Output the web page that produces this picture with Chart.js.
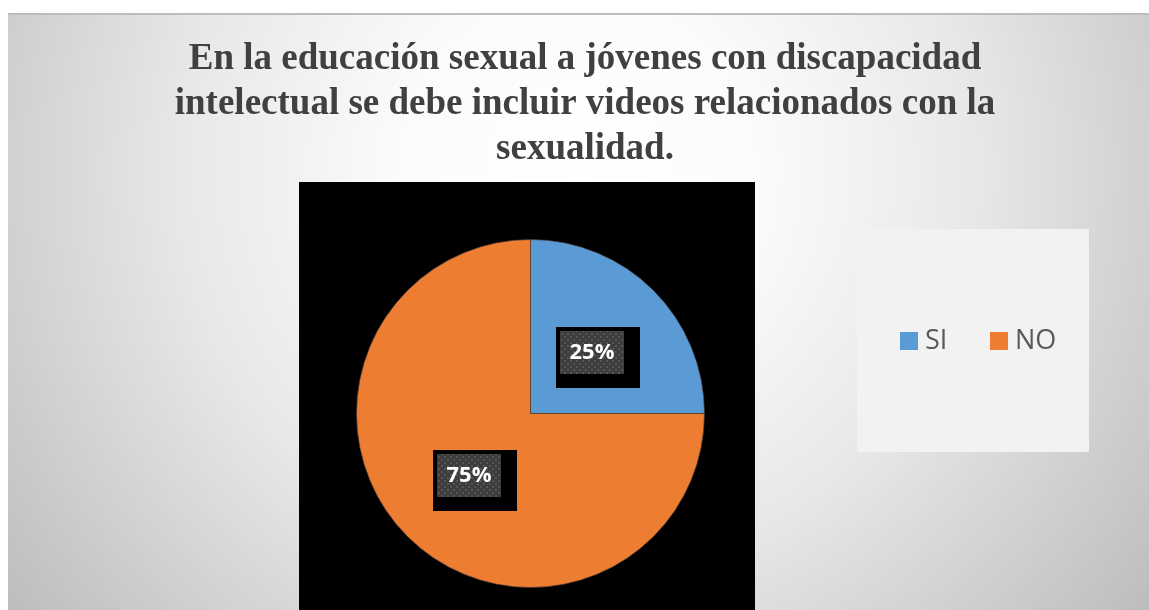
<!DOCTYPE html>
<html>
<head>
<meta charset="utf-8">
<script src="https://cdn.jsdelivr.net/npm/chart.js@4.4.1/dist/chart.umd.min.js"></script>
<style>
  html, body { margin: 0; padding: 0; background: #ffffff; overflow: hidden; }
  #wrap { position: absolute; left: 0; top: 0; width: 1149px; height: 610px; }
</style>
</head>
<body>
<div id="wrap"><canvas id="c" width="1149" height="610"></canvas></div>
<script>
// Survey answers
const categories = ['SI', 'NO'];
const percentages = [25, 75];
const sliceColors = ['#5b9bd5', '#ed7d31'];
const titleLines = [
  'En la educación sexual a jóvenes con discapacidad',
  'intelectual se debe incluir videos relacionados con la',
  'sexualidad.'
];

// Frame: gradient panel, title, black plot panel, legend box
const framePlugin = {
  id: 'frame',
  beforeDraw(chart) {
    const ctx = chart.ctx;
    ctx.save();
    ctx.fillStyle = '#ffffff';
    ctx.fillRect(0, 0, chart.width, chart.height);

    const g = ctx.createRadialGradient(578, 170, 0, 578, 170, 720);
    g.addColorStop(0, '#ffffff');
    g.addColorStop(0.25, '#fbfbfb');
    g.addColorStop(0.55, '#e8e8e8');
    g.addColorStop(0.8, '#d0d0d0');
    g.addColorStop(1, '#bdbdbd');
    ctx.fillStyle = g;
    ctx.fillRect(8, 14, chart.width - 8, chart.height - 14);

    ctx.fillStyle = '#bdbdbd';
    ctx.fillRect(8, 13, chart.width - 8, 2);

    // title
    ctx.fillStyle = '#404040';
    ctx.font = 'bold 37px "Liberation Serif", "Times New Roman", serif';
    ctx.textAlign = 'center';
    ctx.textBaseline = 'alphabetic';
    const baselines = [69, 114, 159];
    titleLines.forEach((t, i) => ctx.fillText(t, 585, baselines[i]));

    // plot panel
    ctx.fillStyle = '#000000';
    ctx.fillRect(299, 182, 456, chart.height - 182);

    // legend box
    ctx.fillStyle = '#f2f2f2';
    ctx.fillRect(857, 229, 232, 223);
    ctx.font = '27px "Open Sans", sans-serif';
    ctx.textAlign = 'left';
    ctx.textBaseline = 'middle';
    const legendX = [900, 990];
    categories.forEach((name, i) => {
      ctx.fillStyle = sliceColors[i];
      ctx.fillRect(legendX[i], 332, 18, 18);
      ctx.fillStyle = '#595959';
      ctx.fillText(name, legendX[i] + 25, 341);
    });
    ctx.restore();
  }
};

// Percentage labels inside each slice
function makeDotPattern(ctx) {
  const p = document.createElement('canvas');
  p.width = 6; p.height = 6;
  const pc = p.getContext('2d');
  pc.fillStyle = '#3d3d3d';
  pc.fillRect(0, 0, 6, 6);
  pc.fillStyle = '#555555';
  pc.fillRect(0, 0, 2, 2);
  pc.fillRect(3, 3, 2, 2);
  return ctx.createPattern(p, 'repeat');
}

const labelPlugin = {
  id: 'sliceLabels',
  afterDatasetsDraw(chart) {
    const ctx = chart.ctx;
    const meta = chart.getDatasetMeta(0);
    const pattern = makeDotPattern(ctx);
    ctx.save();
    meta.data.forEach((arc, i) => {
      const pos = arc.tooltipPosition();
      const x = Math.round(pos.x), y = Math.round(pos.y);
      ctx.fillStyle = '#000000';
      ctx.fillRect(x - 36, y - 25, 84, 61);
      ctx.fillStyle = pattern;
      ctx.fillRect(x - 32, y - 21, 64, 43);
      ctx.fillStyle = '#ffffff';
      ctx.font = 'bold 22px "Open Sans", sans-serif';
      ctx.textAlign = 'center';
      ctx.textBaseline = 'middle';
      ctx.fillText(percentages[i] + '%', x, y + 1);
    });
    ctx.restore();
  }
};

new Chart(document.getElementById('c'), {
  type: 'pie',
  data: {
    labels: categories,
    datasets: [{
      data: percentages,
      backgroundColor: sliceColors,
      borderColor: 'rgba(70,55,50,0.7)',
      borderWidth: 1
    }]
  },
  options: {
    responsive: false,
    devicePixelRatio: 1,
    animation: false,
    layout: { padding: { left: 356, right: 444, top: 239, bottom: 22 } },
    plugins: {
      legend: { display: false },
      title: { display: false },
      tooltip: { enabled: false }
    }
  },
  plugins: [framePlugin, labelPlugin]
});
</script>
</body>
</html>
